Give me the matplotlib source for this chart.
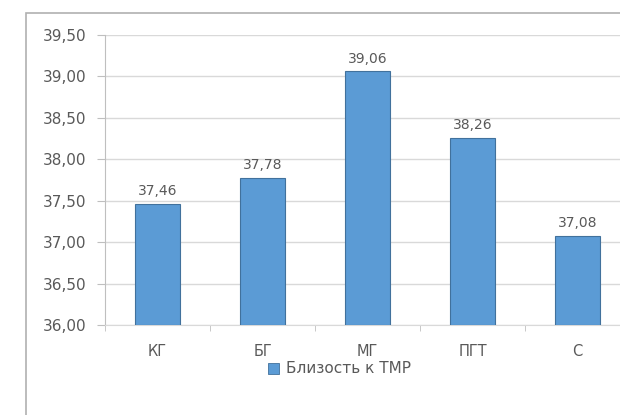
import matplotlib
matplotlib.use('agg')
import matplotlib.pyplot as plt
from matplotlib.patches import Rectangle
from matplotlib.ticker import FuncFormatter, FixedLocator

categories = ['КГ', 'БГ', 'МГ', 'ПГТ', 'С']
values = [37.46, 37.78, 39.06, 38.26, 37.08]
series_name = 'Близость к ТМР'

text_col = '#595959'
bar_col = '#5b9bd5'
edge_col = '#41719c'
fs = 11

fig = plt.figure(figsize=(6.2, 4.15), dpi=100)

# outer chart border (cut off on the right and bottom like the screenshot)
fig.patches.append(Rectangle((26 / 620, -0.1), 1.2, (415 - 13) / 415 + 0.1,
                             transform=fig.transFigure, fill=False,
                             edgecolor='#b0b0b0', linewidth=1.2))

ax = fig.add_axes([105 / 620, 90 / 415, 525 / 620, 290 / 415])
x = list(range(len(categories)))
bars = ax.bar(x, [v - 36 for v in values], bottom=36, width=0.42,
              color=bar_col, edgecolor=edge_col, linewidth=0.8, zorder=3)

for xi, v in zip(x, values):
    ax.text(xi, v + 0.07, f'{v:.2f}'.replace('.', ','), ha='center', va='bottom',
            fontsize=10, color=text_col)

ax.set_xlim(-0.5, len(categories) - 0.5)
ax.set_ylim(36, 39.5)
ax.set_yticks([36 + 0.5 * i for i in range(8)])
ax.yaxis.set_major_formatter(FuncFormatter(lambda v, p: f'{v:.2f}'.replace('.', ',')))
ax.grid(axis='y', color='#d9d9d9', linewidth=1, zorder=0)

ax.set_xticks(x)
ax.set_xticklabels(categories)
ax.xaxis.set_minor_locator(FixedLocator([i + 0.5 for i in range(-1, len(categories))]))
ax.tick_params(axis='x', which='major', length=0, pad=14, labelsize=10.5, labelcolor=text_col)
ax.tick_params(axis='x', which='minor', length=4, color='#bfbfbf')
ax.tick_params(axis='y', length=5.5, color='#bfbfbf', labelsize=fs, labelcolor=text_col, pad=8)

for s in ['top', 'right']:
    ax.spines[s].set_visible(False)
ax.spines['left'].set_color('#bfbfbf')
ax.spines['bottom'].set_color('#d9d9d9')

# legend
fig.patches.append(Rectangle((268 / 620, (415 - 374) / 415), 11 / 620, 11 / 415,
                             transform=fig.transFigure, facecolor=bar_col,
                             edgecolor=edge_col, linewidth=0.6))
fig.text(286 / 620, (415 - 368) / 415, series_name, fontsize=fs, color=text_col,
         va='center', ha='left')

fig.savefig('out.png', dpi=100)
